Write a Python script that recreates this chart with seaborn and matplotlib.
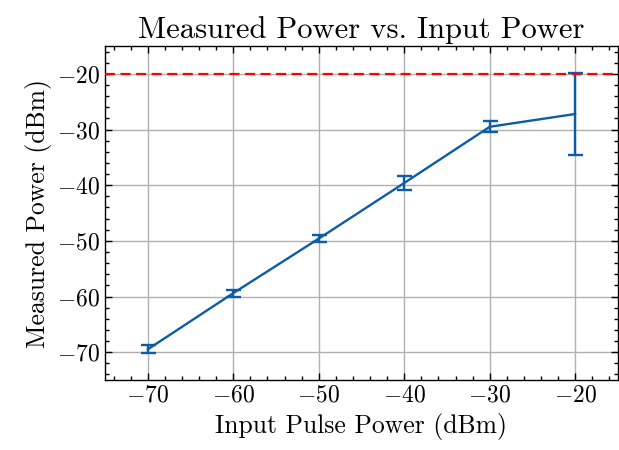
import matplotlib
matplotlib.use("Agg")
import matplotlib.pyplot as plt
import seaborn as sns
import pandas as pd
from matplotlib.ticker import MultipleLocator

input_power = [-70, -60, -50, -40, -30, -20]
measured_power = [-69.5, -59.4, -49.6, -39.6, -29.5, -27.2]
errors = [0.7, 0.6, 0.6, 1.2, 1.0, 7.3]
threshold = -20

sns.set_style("ticks")
plt.rcParams['font.family'] = 'serif'
plt.rcParams['font.serif'] = ['cmr10', 'DejaVu Serif']
plt.rcParams['mathtext.fontset'] = 'cm'
plt.rcParams['axes.formatter.use_mathtext'] = True
plt.rcParams['text.color'] = 'black'
plt.rcParams['axes.labelcolor'] = 'black'
plt.rcParams['xtick.color'] = 'black'
plt.rcParams['ytick.color'] = 'black'
plt.rcParams['axes.edgecolor'] = 'black'

df = pd.DataFrame({"x": input_power, "y": measured_power})

fig = plt.figure(figsize=(6.19, 4.5), dpi=100)
ax = fig.add_axes([0.1696, 0.1556, 0.8288, 0.742])
color = '#0C5DA5'
sns.lineplot(data=df, x="x", y="y", ax=ax, color=color, linewidth=1.7, zorder=3)
ax.errorbar(input_power, measured_power, yerr=errors, fmt='none', ecolor=color,
            elinewidth=1.7, capsize=5.4, capthick=1.7, zorder=3)
ax.axhline(threshold, color='red', linestyle=(0, (4.5, 2.5)), linewidth=1.6, zorder=4)

ax.set_xlim(-75, -15)
ax.set_ylim(-75, -15)
ax.xaxis.set_major_locator(MultipleLocator(10))
ax.yaxis.set_major_locator(MultipleLocator(10))
ax.xaxis.set_minor_locator(MultipleLocator(2))
ax.yaxis.set_minor_locator(MultipleLocator(2))
ax.tick_params(which='both', direction='in', top=True, right=True, labelsize=17)
ax.tick_params(which='major', length=5, width=1)
ax.tick_params(which='minor', length=2.8, width=1)
for s in ax.spines.values():
    s.set_linewidth(1)
ax.grid(True, which='major', color='#b0b0b0', linewidth=1, zorder=0)
ax.set_axisbelow(True)

ax.set_title("Measured Power vs. Input Power", fontsize=22)
ax.set_xlabel("Input Pulse Power (dBm)", fontsize=18.5)
ax.set_ylabel("Measured Power (dBm)", fontsize=18.5)

fig.savefig("out.png", dpi=100)
